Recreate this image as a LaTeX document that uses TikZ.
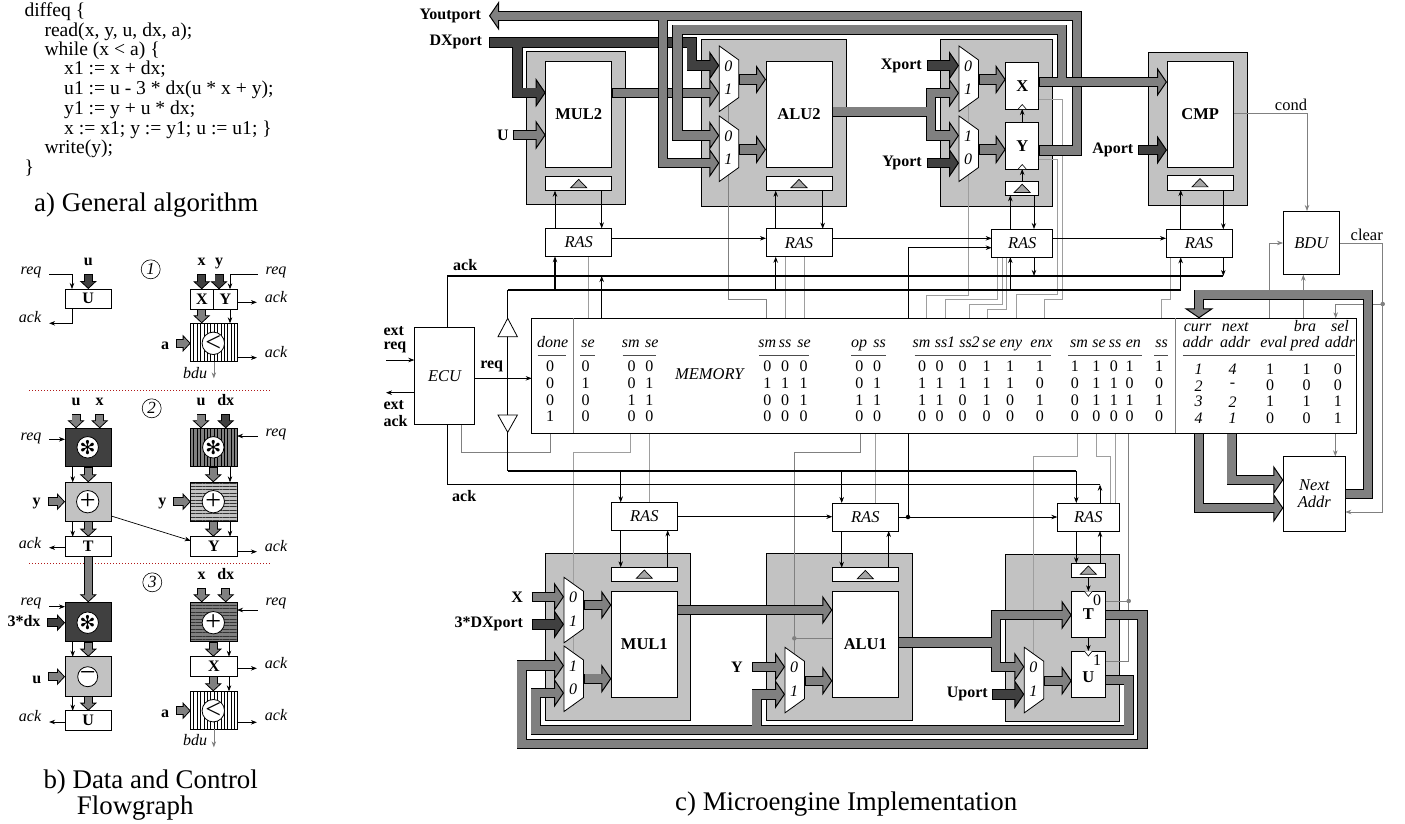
\documentclass[tikz,border=0pt]{standalone}
\usepackage{fontspec}
\setmainfont{Liberation Serif}
\newfontfamily\symfont{DejaVu Sans}
\usetikzlibrary{arrows.meta, patterns.meta, backgrounds}
\definecolor{busgray}{gray}{0.5}
\definecolor{busdark}{gray}{0.25}
\definecolor{panelgray}{gray}{0.76}
\definecolor{wiregray}{gray}{0.5}
\definecolor{wirelight}{gray}{0.62}
\definecolor{dotred}{rgb}{0.7,0.1,0.1}

\newcommand{\bus}[2][busgray]{\draw[busout=#1] #2; \draw[busin=#1] #2;}
\newcommand{\busfork}[3][busgray]{\draw[busout=#1] #2; \draw[busout=#1] #3; \draw[busin=#1] #2; \draw[busin=#1] #3;}
\newcommand{\sbus}[2][busgray]{\draw[sbusout=#1] #2; \draw[sbusin=#1] #2;}

\tikzset{
    pics/muxbox/.style 2 args={code={
        \draw[fill=white, line width=.8pt] (0,0) -- (19.5,14) -- (19.5,51.5) -- (0,65.5) -- cycle;
        \node[muxlab] (-a) at (9,20) {#1};
        \node[muxlab] (-b) at (9,43.5) {#2};
        \coordinate (-in0) at (0,19.5);
        \coordinate (-in1) at (0,47);
        \coordinate (-out) at (19.5,33.5);
        \coordinate (-bot) at (9.5,60);
    }}
}

\begin{document}
\begin{tikzpicture}[
    x=1pt, y=-1pt,
    block/.style={rectangle, draw, fill=white, anchor=north west, inner sep=0pt, outer sep=0pt, line width=.8pt, align=center, font=\bfseries\fontsize{16.5}{16.5}\selectfont},
    panel/.style={block, fill=panelgray},
    ras/.style={block, minimum width=66, minimum height=28, font=\itshape\fontsize{16.5}{16.5}\selectfont},
    latch/.style={block, minimum width=66, minimum height=14},
    ctl/.style={rectangle, draw, anchor=north west, minimum width=46.3, inner sep=0pt, outer sep=0pt, line width=.8pt, font=\bfseries\fontsize{16}{16}\selectfont},
    ctlw/.style={ctl, fill=white},
    opc/.style={circle, draw, fill=white, minimum size=20, inner sep=0pt, outer sep=0pt, line width=.8pt, font=\fontsize{28}{28}\selectfont},
    stripev/.style={preaction={fill=#1}, pattern={Lines[angle=90,distance=3.4pt,line width=1pt]}, pattern color=black},
    stripeh/.style={preaction={fill=#1}, pattern={Lines[angle=0,distance=3.4pt,line width=1pt]}, pattern color=black!80},
    buslab/.style={anchor=east, inner sep=0pt, outer xsep=5pt, font=\bfseries\fontsize{16}{16}\selectfont},
    sig/.style={inner sep=0pt, outer xsep=8pt, text height=8pt, text depth=3pt, font=\itshape\fontsize{16}{16}\selectfont},
    inlab/.style={inner sep=0pt, outer xsep=7pt, outer ysep=6pt, text height=8pt, text depth=2.5pt, font=\bfseries\fontsize{16}{16}\selectfont},
    plainlab/.style={inner sep=0pt, font=\fontsize{16.5}{16.5}\selectfont},
    boldlab/.style={inner sep=0pt, anchor=west, font=\bfseries\fontsize{16}{16}\selectfont},
    muxlab/.style={inner sep=0pt, font=\itshape\fontsize{16}{16}\selectfont},
    headcell/.style={inner sep=0pt, text height=8pt, text depth=3pt, font=\itshape\fontsize{16}{16}\selectfont},
    cell/.style={inner sep=0pt, font=\fontsize{16}{16}\selectfont},
    icell/.style={inner sep=0pt, font=\itshape\fontsize{16}{16}\selectfont},
    algline/.style={anchor=base west, inner sep=0pt, font=\fontsize{19.6}{19.6}\selectfont},
    caption/.style={anchor=base west, inner sep=0pt, font=\fontsize{26.9}{26.9}\selectfont},
    numcirc/.style={circle, draw, minimum size=19, inner sep=0pt, line width=.6pt, font=\itshape\fontsize{17}{17}\selectfont},
    dot/.style={circle, fill=#1, minimum size=4.5, inner sep=0pt},
    arrow/.style={->, >={Stealth[length=6pt,width=4.5pt]}, line width=.7pt},
    sigline/.style={arrow, line width=1.2pt},
    garrow/.style={arrow, draw=wiregray, >={Stealth[length=6pt,width=4.5pt]}},
    mwire/.style={draw=wiregray, line width=.7pt},
    lwire/.style={draw=wirelight, line width=.9pt},
    busout/.style={line width=10.4pt, -{Triangle[length=10pt,width=29pt,line width=1pt,fill=#1]}},
    busin/.style={line width=8.6pt, draw=#1, shorten >=8pt, shorten <=1pt},
    sbusout/.style={line width=9pt, -{Triangle[length=8pt,width=17pt,line width=.8pt,fill=#1]}},
    sbusin/.style={line width=7.4pt, draw=#1, shorten >=6pt, shorten <=.8pt},
    sepline/.style={draw=dotred, line width=1pt, dotted}]

    \useasboundingbox (0,0) rectangle (1405,823);

    % algorithm
    \foreach \cx/\cy/\txt [count=\n] in {24.3/16.7/{diffeq \{}, 44.3/36.3/{read(x, y, u, dx, a);}, 44.3/55.6/{while (x < a) \{}, 64/74.6/{x1 := x + dx;}, 64/94.6/{u1 := u - 3 * dx(u * x + y);}, 64/114.4/{y1 := y + u * dx;}, 64/134.6/{x := x1; y := y1; u := u1; \}}, 44.3/153.6/{write(y);}, 24.3/173.6/{\}}}
        \node[algline] (alg\n) at (\cx,\cy) {\txt};
    \node[caption] (capa) at (34,211.5) {a) General algorithm};
    \node[caption] (capb) at (43.3,788) {b) Data and Control};
    \node[caption] (capbb) at (76.7,814) {Flowgraph};
    \node[caption] (capc) at (675,810.5) {c) Microengine Implementation};

    % flowgraph, step 1
    \node[ctlw, minimum height=19.3] (fu1) at (65,289) {U};
    \node[inlab] (lu1) at (88.3,262.7) {u};
    \node[sig] (lreq1) at (31,271.7) {req};
    \node[sig] (lack1) at (30,320) {ack};
    \node[numcirc] (num1) at (150.7,269.3) {1};
    \node[ctlw, minimum width=22.6, minimum height=19.7] (fx1) at (190.7,289.3) {X};
    \node[ctlw, minimum width=24, minimum height=19.7] (fy1) at (213.3,289.3) {Y};
    \node[inlab] (lx1) at (201.7,262.7) {x};
    \node[inlab] (ly1) at (219,262.7) {y};
    \node[sig] (lreq2) at (276,271.7) {req};
    \node[sig] (lack2) at (276,300) {ack};
    \node[ctl, stripev=white, minimum height=38.4] (fc1) at (190.7,323.3) {};
    \node[opc] (oc1) at (213.3,343.3) {<};
    \node[inlab] (la1) at (165,347) {a};
    \node[sig] (lack3) at (276,355) {ack};
    \node[sig, outer xsep=2pt] (lbdu1) at (195,376) {bdu};
    \draw[sepline] (29.3,390) -- (270.7,390);

    \sbus[busdark]{(lu1.south) -- (lu1.south |- fu1.north)}
    \sbus[busdark]{(lx1.south) -- (lx1.south |- fx1.north)}
    \sbus[busdark]{(ly1.south) -- (ly1.south |- fy1.north)}
    \draw[arrow] (lreq1.east |- 0,274) -| (fu1.north -| 72,0);
    \draw[arrow] (fu1.south -| 72,0) |- (lack1.east |- 0,323.3);
    \draw[arrow] (lreq2.west |- 0,274) -| (fy1.north -| 230,0);
    \draw[arrow] (fy1.east |- 0,302.3) -- (lack2.west |- 0,302.3);
    \sbus{(fx1.south -| 201.7,0) -- (fc1.north -| 201.7,0)}
    \draw[arrow] (fy1.south -| 230,0) -- (fc1.north -| 230,0);
    \sbus{(la1.east |- oc1) -- (fc1.west |- oc1)}
    \draw[arrow] (fc1.east |- 0,357.7) -- (lack3.west |- 0,357.7);
    \draw[garrow] (fc1.south) -- (fc1.south |- 0,378.3);

    % flowgraph, step 2
    \node[inlab] (lu2) at (76,402.7) {u};
    \node[inlab] (lx2) at (99.7,402.7) {x};
    \node[inlab] (lu3) at (201,402.7) {u};
    \node[inlab] (ldx1) at (225.7,402.7) {dx};
    \node[numcirc] (num2) at (151.7,408.3) {2};
    \node[ctl, fill=busdark, minimum height=38.4] (fm1) at (65,428.3) {};
    \node[opc, font=\symfont\fontsize{19}{19}\selectfont] (om1) at (87.7,447.3) {✻};
    \node[ctl, stripev=gray, minimum height=38.4] (fm2) at (190.7,428.3) {};
    \node[opc, font=\symfont\fontsize{19}{19}\selectfont] (om2) at (213.3,447.3) {✻};
    \node[sig] (lreq3) at (31,438.3) {req};
    \node[sig] (lreq4) at (276,434) {req};
    \node[ctl, fill=panelgray, minimum height=38.7] (fa1) at (65,482.3) {};
    \node[opc] (oa1) at (87.7,501.7) {+};
    \node[ctl, stripeh=panelgray, minimum height=38.7] (fa2) at (190.7,482.3) {};
    \node[opc] (oa2) at (213.3,501.7) {+};
    \node[inlab] (ly2) at (36.7,503) {y};
    \node[inlab] (ly3) at (162.3,503) {y};
    \node[ctlw, minimum height=19.3] (ft1) at (65,536.7) {T};
    \node[ctlw, minimum height=19.3] (fy2) at (190.7,536.7) {Y};
    \node[sig] (lack4) at (30,546) {ack};
    \node[sig] (lack5) at (276,549) {ack};
    \draw[sepline] (29.3,563.7) -- (270.7,563.7);

    \sbus{(lu2.south) -- (lu2.south |- fm1.north)}
    \sbus{(lx2.south) -- (lx2.south |- fm1.north)}
    \sbus{(lu3.south) -- (lu3.south |- fm2.north)}
    \sbus[busdark]{(ldx1.south) -- (ldx1.south |- fm2.north)}
    \draw[arrow] (lreq3.east |- 0,439.3) -- (fm1.west |- 0,439.3);
    \draw[arrow] (lreq4.west |- 0,436) -- (fm2.east |- 0,436);
    \draw[arrow] (fm1.south -| 72.7,0) -- (fa1.north -| 72.7,0);
    \sbus{(fm1.south -| 88.3,0) -- (fa1.north -| 88.3,0)}
    \sbus{(fm2.south -| 213.3,0) -- (fa2.north -| 213.3,0)}
    \draw[arrow] (fm2.south -| 230,0) -- (fa2.north -| 230,0);
    \sbus{(ly2.east |- oa1) -- (fa1.west |- oa1)}
    \sbus{(ly3.east |- oa2) -- (fa2.west |- oa2)}
    \draw[arrow] (fa1.south -| 72.7,0) -- (ft1.north -| 72.7,0);
    \sbus{(fa1.south -| 88.3,0) -- (ft1.north -| 88.3,0)}
    \sbus{(fa2.south -| 213.3,0) -- (fy2.north -| 213.3,0)}
    \draw[arrow] (fa2.south -| 230,0) -- (fy2.north -| 230,0);
    \draw[arrow] (fa1.east |- 0,516) -- (fy2.west |- 0,540.7);
    \draw[arrow] (ft1.west |- 0,547.7) -- (lack4.east |- 0,547.7);
    \draw[arrow] (fy2.east |- 0,551.7) -- (lack5.west |- 0,551.7);

    % flowgraph, step 3
    \node[numcirc] (num3) at (152.3,582.3) {3};
    \node[inlab] (lx3) at (201.7,576.7) {x};
    \node[inlab] (ldx2) at (225.7,576.7) {dx};
    \node[ctl, fill=busdark, minimum height=39.4] (fm3) at (65,602.3) {};
    \node[opc, font=\symfont\fontsize{19}{19}\selectfont] (om3) at (87.7,622.7) {✻};
    \node[ctl, stripeh=gray, minimum height=39.4] (fa3) at (190.7,602.3) {};
    \node[opc] (oa3) at (213.3,622.7) {+};
    \node[sig] (lreq5) at (31,603.3) {req};
    \node[sig] (lreq6) at (276,603.3) {req};
    \node[inlab] (ldx3) at (24,623.3) {3*dx};
    \node[ctl, fill=panelgray, minimum height=39.3] (fs1) at (65,656.7) {};
    \node[opc] (os1) at (87.7,676.7) {−};
    \node[inlab] (lu4) at (36.7,680.7) {u};
    \node[ctlw, minimum height=19.6] (fx2) at (190.7,656.7) {X};
    \node[sig] (lack6) at (276,665.7) {ack};
    \node[ctlw, minimum height=19.6] (fu2) at (65,710.7) {U};
    \node[sig] (lack7) at (30,719.3) {ack};
    \node[ctl, stripev=white, minimum height=38] (fc2) at (190.7,691.3) {};
    \node[opc] (oc2) at (213.3,710.7) {<};
    \node[inlab] (la2) at (165,715) {a};
    \node[sig] (lack8) at (276,718.3) {ack};
    \node[sig, outer xsep=2pt] (lbdu2) at (195,742.7) {bdu};

    \sbus{(ft1.south -| 88.3,0) -- (fm3.north -| 88.3,0)}
    \sbus{(lx3.south) -- (lx3.south |- fa3.north)}
    \sbus{(ldx2.south) -- (ldx2.south |- fa3.north)}
    \draw[arrow] (lreq5.east |- 0,606.7) -- (fm3.west |- 0,606.7);
    \draw[arrow] (lreq6.west |- 0,610) -- (fa3.east |- 0,610);
    \sbus[busdark]{(ldx3.east |- om3) -- (fm3.west |- om3)}
    \draw[arrow] (fm3.south -| 72.7,0) -- (fs1.north -| 72.7,0);
    \sbus{(fm3.south -| 88.3,0) -- (fs1.north -| 88.3,0)}
    \sbus{(fa3.south -| 213.3,0) -- (fx2.north -| 213.3,0)}
    \draw[arrow] (fa3.south -| 229,0) -- (fx2.north -| 229,0);
    \sbus{(lu4.east |- os1) -- (fs1.west |- os1)}
    \draw[arrow] (fx2.east |- 0,668.3) -- (lack6.west |- 0,668.3);
    \draw[arrow] (fs1.south -| 72.7,0) -- (fu2.north -| 72.7,0);
    \sbus{(fs1.south -| 88.3,0) -- (fu2.north -| 88.3,0)}
    \sbus{(fx2.south -| 213.3,0) -- (fc2.north -| 213.3,0)}
    \draw[arrow] (fx2.south -| 229,0) -- (fc2.north -| 229,0);
    \sbus{(la2.east |- oc2) -- (fc2.west |- oc2)}
    \draw[arrow] (fu2.west |- 0,722) -- (lack7.east |- 0,722);
    \draw[arrow] (fc2.east |- 0,722.3) -- (lack8.west |- 0,722.3);
    \draw[garrow] (fc2.south) -- (fc2.south |- 0,747.3);

    % gray panels of the microengine
    \begin{scope}[on background layer]
        \node[panel, minimum width=99, minimum height=153] (bgmul2) at (526.7,51.7) {};
        \node[panel, minimum width=145, minimum height=167] (bgalu2) at (701.3,39.3) {};
        \node[panel, minimum width=112, minimum height=167] (bgxy) at (940.7,39.3) {};
        \node[panel, minimum width=99, minimum height=153] (bgcmp) at (1148.3,52.7) {};
        \node[panel, minimum width=145, minimum height=166.7] (bgmul1) at (545.7,553.3) {};
        \node[panel, minimum width=146, minimum height=166.7] (bgalu1) at (766.3,553.3) {};
        \node[panel, minimum width=113.6, minimum height=166.7] (bgtu) at (1005.7,554.3) {};
    \end{scope}

    % top row
    \node[block, minimum width=66, minimum height=106] (mul2) at (545.7,61.3) {MUL2};
    \node[block, minimum width=66, minimum height=106] (alu2) at (766,61.3) {ALU2};
    \node[block, minimum width=33, minimum height=46.7] (xreg) at (1005.7,62.3) {X};
    \node[block, minimum width=33, minimum height=46.7] (yreg) at (1005.7,122.3) {Y};
    \node[block, minimum width=66.3, minimum height=106] (cmp) at (1167,61) {CMP};
    \node[latch] (latm2) at (545.7,176.7) {};
    \node[latch] (lata2) at (766,176.7) {};
    \node[latch, minimum width=33, minimum height=13.6] (latxy) at (1005.7,181.7) {};
    \node[latch, minimum height=14.3] (latcmp) at (1167,175.7) {};
    \node[ras] (ras1) at (545.7,228.3) {RAS};
    \node[ras] (ras2) at (766,228.7) {RAS};
    \node[ras, minimum width=61] (ras3) at (991.7,229) {RAS};
    \node[ras] (ras4) at (1166,229.3) {RAS};
    \pic (mxa) at (719.3,46) {muxbox={0}{1}};
    \pic (mxb) at (719.3,116) {muxbox={0}{1}};
    \pic (mxx) at (959,46) {muxbox={0}{1}};
    \pic (mxy) at (959,116) {muxbox={1}{0}};

    % memory and control
    \node[block, minimum width=825, minimum height=115] (mem) at (531.7,318.3) {};
    \node[block, font=\itshape\fontsize{16.5}{16.5}\selectfont, minimum width=60.4, minimum height=97] (ecu) at (414.3,327.3) {ECU};
    \node[block, font=\itshape\fontsize{16.5}{16.5}\selectfont, minimum width=56.7, minimum height=63.7] (bdu) at (1283,211) {BDU};
    \node[block, font=\itshape\fontsize{16.5}{17}\selectfont, minimum width=62, minimum height=74.7] (nxt) at (1283.3,456.3) {Next\\Addr};
    \draw[mwire] (573.3,318.3) -- (573.3,433.3);
    \draw[mwire] (1175,318.3) -- (1175,433.3);
    \node[inner sep=0pt, font=\itshape\fontsize{16.5}{16.5}\selectfont] (memlab) at (709.3,374.3) {MEMORY};
    \foreach \cx/\txt [count=\n] in {552.7/done, 588/se, 630.7/sm, 651.7/se, 767.3/sm, 785/ss, 804/se, 859/op, 879.6/ss, 921.5/sm, 945/ss1, 969.5/ss2, 989/se, 1011/eny, 1041.5/enx, 1079/sm, 1099/se, 1115/ss, 1133.4/en, 1161.6/ss, 1235.3/addr, 1197.6/addr, 1273.7/eval, 1305/pred, 1340/addr}
        \node[headcell] (hd\n) at (\cx,345) {\txt};
    \foreach \cx/\txt [count=\n] in {1197.6/curr, 1235.3/next, 1305/bra, 1340/sel}
        \node[headcell] (hu\n) at (\cx,329.3) {\txt};
    \foreach \xa/\xb [count=\n] in {537.7/566, 580.3/594.7, 622.7/656, 759/809, 851/885.8, 914.6/1050.8, 1068/1141.7, 1154/1167.7, 1182.8/1354.7}
        \draw[line width=.5pt, draw=black!70] (\xa,355.5) -- (\xb,355.5);
    \foreach \cx/\va/\vb/\vc/\vd [count=\n] in {550/0/0/0/1, 585.7/0/1/0/0, 631.7/0/0/1/0, 649.3/0/1/1/0, 767.3/0/1/0/0, 785/0/1/0/0, 803.7/0/1/1/0, 859.3/0/0/1/0, 877/0/1/1/0, 922/0/1/1/0, 939.6/0/1/1/0, 962.6/0/1/0/0, 986.6/1/1/1/0, 1010/1/1/0/0, 1039.8/1/0/1/0, 1074.8/1/0/0/0, 1096.4/1/1/1/0, 1113.9/0/1/1/0, 1129.7/1/0/1/0, 1159/1/0/1/0} {
        \node[cell] (cl\n a) at (\cx,366.7) {\va};
        \node[cell] (cl\n b) at (\cx,383.3) {\vb};
        \node[cell] (cl\n c) at (\cx,400) {\vc};
        \node[cell] (cl\n d) at (\cx,416) {\vd};
    }
    \foreach \cx/\va/\vb/\vc/\vd [count=\n] in {1198.6/1/2/3/4, 1232.6/4/-/2/1} {
        \node[icell] (ci\n a) at (\cx,369.3) {\va};
        \node[icell] (ci\n b) at (\cx,385.7) {\vb};
        \node[icell] (ci\n c) at (\cx,401.7) {\vc};
        \node[icell] (ci\n d) at (\cx,418.3) {\vd};
    }
    \foreach \cx/\va/\vb/\vc/\vd [count=\n] in {1270/1/0/1/0, 1306.6/1/0/1/0, 1337.9/0/0/1/1} {
        \node[cell] (cj\n a) at (\cx,369.3) {\va};
        \node[cell] (cj\n b) at (\cx,385.7) {\vb};
        \node[cell] (cj\n c) at (\cx,401.7) {\vc};
        \node[cell] (cj\n d) at (\cx,418.3) {\vd};
    }
    \coordinate (ackt) at (447.3,276);
    \coordinate (reqt) at (507.7,290);
    \coordinate (reqb) at (507.7,471);
    \coordinate (ackb) at (447.3,484.7);
    \coordinate (tru) at (507.7,318.3);
    \coordinate (trd) at (507.7,432.3);
    \draw[fill=white, line width=.8pt] (tru) -- ++(-9.7,18.4) -- ++(19.4,0) -- cycle;
    \draw[fill=white, line width=.8pt] (trd) -- ++(-9.7,-17.3) -- ++(19.4,0) -- cycle;

    \node[boldlab] (lext1) at (383.3,331) {ext};
    \node[boldlab] (lext2) at (383.3,347.7) {req};
    \node[boldlab] (lext3) at (383.3,405) {ext};
    \node[boldlab] (lext4) at (383.3,421) {ack};
    \node[boldlab, anchor=center] (lreq) at (491.7,366.7) {req};
    \node[boldlab] (lackt) at (453,265) {ack};
    \node[boldlab] (lackb) at (452,496) {ack};
    \node[plainlab] (lcond) at (1291,105) {cond};
    \node[plainlab] (lclear) at (1366.7,235) {clear};
    \coordinate (extin) at (386,360);
    \coordinate (extout) at (386,392.7);

    % bottom row
    \node[block, minimum width=66, minimum height=106] (mul1) at (611.3,591.3) {MUL1};
    \node[block, minimum width=66, minimum height=106] (alu1) at (832.3,591.3) {ALU1};
    \node[block, minimum width=33.3, minimum height=46.4] (treg) at (1071.7,591.3) {T};
    \node[block, minimum width=33.3, minimum height=46.3, text height=17pt] (ureg) at (1071.7,651) {U};
    \node[inner sep=0pt, font=\fontsize{16}{16}\selectfont] (tzero) at (1097,600.7) {0};
    \node[inner sep=0pt, font=\fontsize{16}{16}\selectfont] (uone) at (1097,660.7) {1};
    \node[latch] (latm1) at (611.3,567.3) {};
    \node[latch] (lata1) at (832.3,567.7) {};
    \node[latch, minimum width=33.3] (lattu) at (1071.7,563.3) {};
    \node[ras] (rasb1) at (611.3,502.3) {RAS};
    \node[ras] (rasb2) at (832.3,503) {RAS};
    \node[ras, minimum width=62] (rasb3) at (1057.3,503) {RAS};
    \pic (mxc) at (564,577.3) {muxbox={0}{1}};
    \pic (mxd) at (564,646) {muxbox={1}{0}};
    \pic (mxe) at (785,647.3) {muxbox={0}{1}};
    \pic (mxu) at (1024.3,647.3) {muxbox={0}{1}};

    % latch marks and clock notches
    \foreach \l in {latm2,lata2,latxy,latcmp,latm1,lata1,lattu}
        \draw[fill=gray!70, line width=.7pt] ([shift={(-8,4)}]\l.center) -- ++(8,-8.3) -- ++(8,8.3) -- cycle;
    \foreach \r in {xreg,yreg}
        \draw[fill=white, line width=.6pt] ([xshift=-4]\r.south) -- ++(4,-4.5) -- ++(4,4.5);
    \foreach \r in {treg,ureg}
        \draw[fill=white, line width=.6pt] ([xshift=-4]\r.north) -- ++(4,5) -- ++(4,-5);

    % port labels
    \coordinate (yout) at (489,15.8);
    \node[buslab, outer xsep=8pt] (lyout) at (yout) {Youtport};
    \node[buslab, outer xsep=7pt] (ldx) at (489,42.3) {DXport};
    \node[buslab, outer xsep=4pt] (lu) at (512.7,135) {U};
    \node[buslab] (lxp) at (926.7,65.5) {Xport};
    \node[buslab] (lyp) at (926.7,163) {Yport};
    \node[buslab] (lap) at (1138.3,150) {Aport};
    \node[buslab, outer xsep=8.7pt] (lx) at (531.7,596.8) {X};
    \node[buslab, outer xsep=8.7pt] (lthree) at (531.7,624.3) {3*DXport};
    \node[buslab, outer xsep=9.6pt] (ly) at (752.3,666.8) {Y};
    \node[buslab, outer xsep=4pt] (lup) at (991.7,694.3) {Uport};

    \node[dot=wiregray] (dalu) at (794.3,638.3) {};
    \node[dot=wiregray] (dtu) at (1128.7,601) {};
    \node[dot=wiregray] (dclr) at (1382.7,304) {};
    \node[dot=black] (dras) at (908,517) {};

    % all the wires lie over the panels and under the blocks
    \begin{scope}[on background layer]
        \draw[lwire] (mem.north -| 588,0) -- (ras1.south -| 588,0);
        \draw[mwire] (mem.north -| 766.7,0) |- (mxb-bot |- 0,299.3) -- (mxa-bot);
        \draw[lwire] (mem.north -| 785,0) -- (ras2.south -| 785,0);
        \draw[lwire] (mem.north -| 804,0) -- (ras2.south -| 804,0);
        \draw[lwire] (mem.north -| 926.6,0) |- (mxy-bot |- 0,295) -- (mxx-bot);
        \draw[lwire] (mem.north -| 945.8,0) |- (997,299.3) -- (ras3.south -| 997,0);
        \draw[lwire] (mem.north -| 969.5,0) |- (1002,304) -- (ras3.south -| 1002,0);
        \draw[lwire] (mem.north -| 987.3,0) |- (1006,309) -- (ras3.south -| 1006,0);
        \draw[lwire] (mem.north -| 1016,0) |- (1057.3,294.3) |- (yreg.east |- 0,159.3);
        \draw[lwire] (mem.north -| 1044,0) |- (1062.3,299) |- (xreg.east |- 0,99);
        \draw[lwire] (mem.north -| 1161.3,0) |- (1170.3,299) -- (ras4.south -| 1170.3,0);
        \draw[garrow] (mem.north -| 1269,0) |- (bdu.west |- 0,243);
        \draw[garrow] (mem.north -| 1303.3,0) -- (bdu.south -| 1303.3,0);
        \draw[garrow] (cmp.east |- 0,113.3) -| (bdu.north -| 1307,0);
        \draw[garrow] (bdu.east |- 0,243) -| (dclr.center) |- (nxt.east |- 0,512);
        \draw[garrow] (dclr.center) -| (mem.north -| 1335.7,0);
        \draw[garrow] (mem.south -| 1335.3,0) -- (nxt.north -| 1335.3,0);

        \draw[mwire] (mem.south -| 550.3,0) |- (461.7,452.3) -- (ecu.south -| 461.7,0);
        \draw[lwire] (mem.south -| 630.7,0) |- (mxc-bot |- 0,452.3) -- (mxd-bot);
        \draw[lwire] (mem.south -| 649,0) -- (rasb1.north -| 649,0);
        \draw[mwire] (mem.south -| 860.7,0) |- (mxe-bot |- 0,452.3) -- (mxe-bot);
        \draw[mwire] (dalu.center) -- (alu1.west |- dalu);
        \draw[lwire] (mem.south -| 875,0) -- (rasb2.north -| 875,0);
        \draw[lwire] (mem.south -| 1077.5,0) |- (mxu-bot |- 0,456.7) -- (mxu-bot);
        \draw[lwire] (mem.south -| 1096,0) |- (1110.4,456.7) -- (rasb3.north -| 1110.4,0);
        \draw[lwire] (mem.south -| 1115.6,0) -- (rasb3.north -| 1115.6,0);
        \draw[mwire] (mem.south -| 1128.7,0) |- (ureg.east |- 0,661);
        \draw[mwire] (treg.east |- dtu) -- (dtu.center);

        % control lines
        \draw[arrow] (ras1.east |- 0,238.3) -- (ras2.west |- 0,238.3);
        \draw[arrow] (ras2.east |- 0,238.3) -- (ras3.west |- 0,238.3);
        \draw[arrow] (ras3.east |- 0,238.3) -- (ras4.west |- 0,238.3);
        \draw[arrow] (mem.north -| 908,0) |- (ras3.west |- 0,247.7);
        \draw[arrow] (ras1.north -| 555,0) -- (latm2.south -| 555,0);
        \draw[arrow] (latm2.south -| 601.7,0) -- (ras1.north -| 601.7,0);
        \draw[arrow] (ras2.north -| 775.7,0) -- (lata2.south -| 775.7,0);
        \draw[arrow] (lata2.south -| 822.7,0) -- (ras2.north -| 822.7,0);
        \draw[arrow] (ras3.north -| 1010.3,0) -- (latxy.south -| 1010.3,0);
        \draw[arrow] (latxy.south -| 1034,0) -- (ras3.north -| 1034,0);
        \draw[arrow] (ras4.north -| 1180.7,0) -- (latcmp.south -| 1180.7,0);
        \draw[arrow] (latcmp.south -| 1223.3,0) -- (ras4.north -| 1223.3,0);
        \draw[arrow] (latxy.north) -- (yreg.south);
        \draw[arrow] (yreg.north) -- (xreg.south);
        \draw[line width=1.2pt] (ecu.north -| ackt) -- (ackt) -- (ackt -| 1223.3,0);
        \draw[line width=1.2pt] (reqt) -- (reqb);
        \draw[sigline] (reqt) -| (ras4.south -| 1180.7,0);
        \draw[sigline] (reqt -| 555,0) -- (ras1.south -| 555,0);
        \draw[sigline] (mem.north -| 601.7,0) -- (ackt -| 601.7,0);
        \draw[sigline] (reqt -| 775.7,0) -- (ras2.south -| 775.7,0);
        \draw[sigline] (reqt -| 1010.3,0) -- (ras3.south -| 1010.3,0);
        \draw[arrow] (ras3.south -| 1034,0) -- (ackt -| 1034,0);
        \draw[arrow] (ras4.south -| 1223.3,0) -- (ackt -| 1223.3,0);

        \draw[line width=1.2pt] (ecu.south -| ackb) -- (ackb) -- (ackb -| 1100,0);
        \draw[line width=1.2pt] (reqb) -- (reqb -| 1076.3,0);
        \draw[arrow] (reqb -| 620.7,0) -- (rasb1.north -| 620.7,0);
        \draw[arrow] (reqb -| 841.7,0) -- (rasb2.north -| 841.7,0);
        \draw[arrow] (reqb -| 1076.3,0) -- (rasb3.north -| 1076.3,0);
        \draw[arrow] (rasb3.north -| 1100,0) -- (ackb -| 1100,0);
        \draw[arrow] (rasb1.east |- 0,516.7) -- (rasb2.west |- 0,516.7);
        \draw[arrow] (rasb2.east |- dras) -- (rasb3.west |- dras);
        \draw (mem.south -| dras) -- (dras);
        \draw[arrow] (rasb1.south -| 620.7,0) -- (latm1.north -| 620.7,0);
        \draw[arrow] (latm1.north -| 667.7,0) -- (rasb1.south -| 667.7,0);
        \draw[arrow] (rasb2.south -| 841.7,0) -- (lata1.north -| 841.7,0);
        \draw[arrow] (lata1.north -| 888.7,0) -- (rasb2.south -| 888.7,0);
        \draw[arrow] (rasb3.south -| 1076.3,0) -- (lattu.north -| 1076.3,0);
        \draw[arrow] (lattu.north -| 1100,0) -- (rasb3.south -| 1100,0);
        \draw[arrow] (lattu.south) -- (treg.north);
        \draw[arrow] (treg.south) -- (ureg.north);

        \draw[arrow] (extin) -- (ecu.west |- extin);
        \draw[arrow] (ecu.west |- extout) -- (extout);
        \draw[arrow] (ecu.east |- 0,378.3) -- (mem.west |- 0,378.3);

        % data buses
        \bus{(lu.east) -- (mul2.west |- lu)}
        \busfork[busdark]{(ldx.east) -- (691.7,42.3) |- (mxa-in0)}{(517.3,42.3) |- (mul2.west |- 0,92.7)}
        \bus{(mul2.east |- mxa-in1) -- (mxa-in1)}
        \busfork{(yreg.east |- 0,150.3) -- (1077,150.3) -- (1077,15.8) -- (yout)}{(663,15.8) |- (mxb-in1)}
        \busfork{(xreg.east |- 0,82) -- (cmp.west |- 0,82)}{(1062,82) |- (677.3,29.7) |- (mxb-in0)}
        \bus{(mxa-out) -- (alu2.west |- mxa-out)}
        \bus{(mxb-out) -- (alu2.west |- mxb-out)}
        \busfork{(alu2.east |- 0,111.7) -- (931,111.7) |- (mxx-in1)}{(931,111.7) |- (mxy-in0)}
        \bus[busdark]{(lxp.east) -- (mxx-in0)}
        \bus[busdark]{(lyp.east) -- (mxy-in1)}
        \bus{(mxx-out) -- (xreg.west |- mxx-out)}
        \bus{(mxy-out) -- (yreg.west |- mxy-out)}
        \bus[busdark]{(lap.east) -- (cmp.west |- lap)}
        \bus{(mem.south -| 1199,0) |- (nxt.west |- 0,508)}
        \bus{(mem.south -| 1231.7,0) |- (nxt.west |- 0,480)}
        \bus{(nxt.east |- 0,494) -| (1368,294.7) -| (mem.north -| 1199,0)}

        \bus{(lx.east) -- (mxc-in0)}
        \bus[busdark]{(lthree.east) -- (mxc-in1)}
        \bus{(mxc-out |- 0,605) -- (mul1.west |- 0,605)}
        \bus{(mxd-out |- 0,678.7) -- (mul1.west |- 0,678.7)}
        \bus{(mul1.east |- 0,610) -- (alu1.west |- 0,610)}
        \bus{(ly.east) -- (mxe-in0)}
        \bus{(mxe-out) -- (alu1.west |- mxe-out)}
        \busfork{(alu1.east |- 0,642.3) -- (996,642.3) |- (treg.west |- 0,615)}{(996,642.3) |- (mxu-in0)}
        \bus[busdark]{(lup.east) -- (mxu-in1)}
        \bus{(mxu-out) -- (ureg.west |- mxu-out)}
        \bus{(treg.east |- 0,615) -- (1142.3,615) -- (1142.3,744) -- (521.7,744) |- (mxd-in0)}
        \busfork{(ureg.east |- 0,680) -- (1128.7,680) -- (1128.7,730) -- (535.7,730) |- (mxd-in1)}{(756.7,730) |- (mxe-in1)}
    \end{scope}
\end{tikzpicture}
\end{document}
